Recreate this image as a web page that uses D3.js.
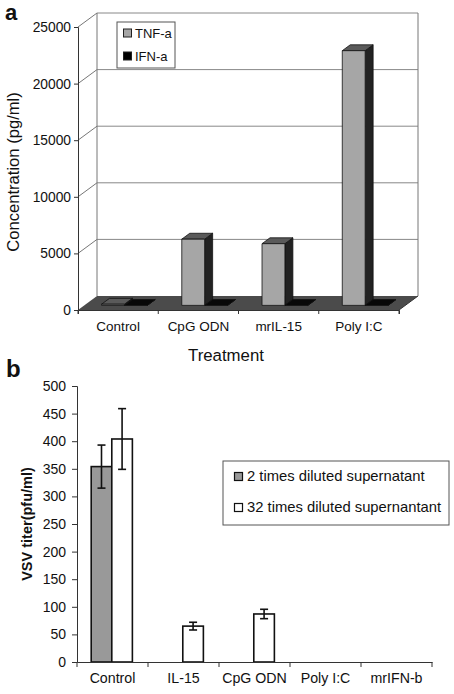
<!DOCTYPE html>
<html><head><meta charset="utf-8">
<script src="https://cdn.jsdelivr.net/npm/d3@7"></script>
<style>body{margin:0;background:#fff}svg{display:block}text{font-family:"Liberation Sans",Arial,sans-serif}</style>
</head><body><svg id="c" width="454" height="694"></svg>
<script>
// Panel a data
const catsA = ["Control", "CpG ODN", "mrIL-15", "Poly I:C"];
const seriesA = ["TNF-a", "IFN-a"];
const tnf = [100, 5850, 5450, 22500];
const ifn = [0, 0, 0, 0];
const ticksA = [0, 5000, 10000, 15000, 20000, 25000];
// Panel b data
const catsB = ["Control", "IL-15", "CpG ODN", "Poly I:C", "mrIFN-b"];
const seriesB = ["2 times diluted supernatant", "32 times diluted supernantant"];
const dil2 = [354, 0, 0, 0, 0];
const dil2Err = [39, 0, 0, 0, 0];
const dil32 = [404, 65, 87, 0, 0];
const dil32Err = [55, 7, 8.5, 0, 0];
const ticksB = [0, 50, 100, 150, 200, 250, 300, 350, 400, 450, 500];

const svg = d3.select("#c");
const F = '"Liberation Sans",Arial,sans-serif';

// ---------- Panel a ----------
const DX = 19, DY = -14;
const xA = d3.scaleBand().domain(catsA).range([78, 399]);
const xAs = d3.scaleBand().domain(seriesA).range([0.215 * xA.bandwidth(), 0.785 * xA.bandwidth()]);
const yA = d3.scaleLinear().domain([0, 25000]).range([310, 27]);
const gA = svg.append("g");
const P = (x, y, d) => [x + DX * d, y + DY * d];
const poly = pts => pts.map(p => p.join(",")).join(" ");

// floor
gA.append("polygon").attr("points", poly([P(78, yA(0), 0), P(399, yA(0), 0), P(399, yA(0), 1), P(78, yA(0), 1)]))
  .attr("fill", "#4b4b4b");
// back wall gridlines + left wall diagonals
ticksA.filter(t => t > 0).forEach(t => {
  const [bx, by] = P(78, yA(t), 1);
  gA.append("line").attr("x1", 78).attr("y1", yA(t)).attr("x2", bx).attr("y2", by).attr("stroke", "#777").attr("stroke-width", 1);
  gA.append("line").attr("x1", bx).attr("y1", by).attr("x2", 399 + DX).attr("y2", by).attr("stroke", "#888").attr("stroke-width", 1);
});
// back wall verticals
gA.append("line").attr("x1", 78 + DX).attr("y1", yA(25000) + DY).attr("x2", 78 + DX).attr("y2", yA(0) + DY).attr("stroke", "#777");
gA.append("line").attr("x1", 399 + DX).attr("y1", yA(25000) + DY).attr("x2", 399 + DX).attr("y2", yA(0) + DY).attr("stroke", "#777");
// floor right edge
gA.append("line").attr("x1", 399).attr("y1", yA(0)).attr("x2", 399 + DX).attr("y2", yA(0) + DY).attr("stroke", "#333");

// bars
const d1 = 0.33, d2 = 0.75;
function bar3d(x, w, v, front, top, side) {
  const y0 = yA(0), yv = yA(v);
  const ftl = P(x, yv, d1), ftr = P(x + w, yv, d1), fbr = P(x + w, y0, d1), fbl = P(x, y0, d1);
  const btl = P(x, yv, d2), btr = P(x + w, yv, d2), bbr = P(x + w, y0, d2);
  const g = gA.append("g").attr("stroke", "#111").attr("stroke-width", 0.8).attr("stroke-linejoin", "round");
  g.append("polygon").attr("points", poly([ftr, btr, bbr, fbr])).attr("fill", side);
  g.append("polygon").attr("points", poly([ftl, ftr, btr, btl])).attr("fill", top);
  if (yv < y0 - 0.5) g.append("polygon").attr("points", poly([ftl, ftr, fbr, fbl])).attr("fill", front);
}
catsA.forEach((c, i) => {
  bar3d(xA(c) + xAs("TNF-a"), xAs.bandwidth(), tnf[i], "#a6a6a6", "#5a5a5a", "#222");
  bar3d(xA(c) + xAs("IFN-a"), xAs.bandwidth(), ifn[i], "#000", "#080808", "#000");
});

// axes
const axA = gA.append("g").attr("transform", "translate(78,0)")
  .call(d3.axisLeft(yA).tickValues(ticksA).tickSize(4).tickPadding(3).tickFormat(d3.format("d")));
axA.select(".domain").attr("stroke", "#333");
axA.selectAll(".tick line").attr("stroke", "#333");
axA.selectAll("text").attr("font-size", 13.8).attr("font-family", F).attr("fill", "#111");
const axAx = gA.append("g").attr("transform", "translate(0,310)")
  .call(d3.axisBottom(xA).tickSize(4).tickPadding(7));
axAx.select(".domain").attr("stroke", "#333");
axAx.selectAll(".tick line").remove();
[78, ...catsA.map(c => xA(c) + xA.bandwidth())].forEach(x =>
  axAx.append("line").attr("x1", x).attr("x2", x).attr("y1", 0).attr("y2", 4).attr("stroke", "#333"));
axAx.selectAll("text").attr("font-size", 13.5).attr("font-family", F).attr("fill", "#111");

gA.append("text").attr("transform", "translate(19,172) rotate(-90)").attr("text-anchor", "middle")
  .attr("font-size", 16.6).attr("fill", "#111").text("Concentration (pg/ml)");
gA.append("text").attr("x", 226).attr("y", 361).attr("text-anchor", "middle").attr("font-size", 16.8).attr("fill", "#111").text("Treatment");
gA.append("text").attr("x", 5).attr("y", 20).attr("font-size", 22).attr("font-weight", "bold").attr("fill", "#111").text("a");

// legend a
const lgA = gA.append("g");
lgA.append("rect").attr("x", 117).attr("y", 22).attr("width", 58).attr("height", 46).attr("fill", "#fff").attr("stroke", "#555");
[["TNF-a", "#a6a6a6", 38], ["IFN-a", "#000", 61]].forEach(([t, c, y]) => {
  lgA.append("rect").attr("x", 123.5).attr("y", y - 9).attr("width", 8).attr("height", 8).attr("fill", c).attr("stroke", "#222");
  lgA.append("text").attr("x", 135).attr("y", y).attr("font-size", 13).attr("fill", "#111").text(t);
});

// ---------- Panel b ----------
const gB = svg.append("g");
const xB = d3.scaleBand().domain(catsB).range([77, 432]);
const xBs = d3.scaleBand().domain(seriesB).range([0.2 * xB.bandwidth(), 0.78 * xB.bandwidth()]);
const yB = d3.scaleLinear().domain([0, 500]).range([662, 386]);
const fills = ["#999", "#fff"];
[dil2, dil32].forEach((vals, si) => {
  catsB.forEach((c, i) => {
    const x = xB(c) + xBs(seriesB[si]);
    gB.append("rect").attr("x", x).attr("y", yB(vals[i])).attr("width", xBs.bandwidth())
      .attr("height", yB(0) - yB(vals[i])).attr("fill", fills[si]).attr("stroke", vals[i] > 0 ? "#111" : "#888")
      .attr("stroke-width", vals[i] > 0 ? 1.6 : 1);
  });
});
[[dil2, dil2Err], [dil32, dil32Err]].forEach(([vals, errs], si) => {
  catsB.forEach((c, i) => {
    if (!errs[i]) return;
    const cx = xB(c) + xBs(seriesB[si]) + xBs.bandwidth() / 2;
    const t = yB(vals[i] + errs[i]), b = yB(vals[i] - errs[i]);
    const g = gB.append("g").attr("stroke", "#111").attr("stroke-width", 1.6);
    g.append("line").attr("x1", cx).attr("x2", cx).attr("y1", t).attr("y2", b);
    g.append("line").attr("x1", cx - 4).attr("x2", cx + 4).attr("y1", t).attr("y2", t);
    g.append("line").attr("x1", cx - 4).attr("x2", cx + 4).attr("y1", b).attr("y2", b);
  });
});
const axB = gB.append("g").attr("transform", "translate(77,0)")
  .call(d3.axisLeft(yB).tickValues(ticksB).tickSize(5).tickPadding(6));
axB.select(".domain").attr("stroke", "#333");
axB.selectAll(".tick line").attr("stroke", "#333");
axB.selectAll("text").attr("font-size", 14).attr("font-family", F).attr("fill", "#111");
const axBx = gB.append("g").attr("transform", "translate(0,662)")
  .call(d3.axisBottom(xB).tickSize(0).tickPadding(11));
axBx.select(".domain").attr("stroke", "#333");
[77, ...catsB.map(c => xB(c) + xB.bandwidth())].forEach(x =>
  axBx.append("line").attr("x1", x).attr("x2", x).attr("y1", 0).attr("y2", 5).attr("stroke", "#333"));
axBx.selectAll("text").attr("font-size", 14.2).attr("font-family", F).attr("fill", "#111");

gB.append("text").attr("transform", "translate(32,524) rotate(-90)").attr("text-anchor", "middle")
  .attr("font-size", 14.5).attr("font-weight", "bold").attr("fill", "#111").text("VSV titer(pfu/ml)");
gB.append("text").attr("x", 6).attr("y", 377).attr("font-size", 24).attr("font-weight", "bold").attr("fill", "#111").text("b");

const lgB = gB.append("g");
lgB.append("rect").attr("x", 223).attr("y", 461).attr("width", 226).attr("height", 64).attr("fill", "#fff").attr("stroke", "#555");
seriesB.forEach((s, i) => {
  const y = 481 + i * 31;
  lgB.append("rect").attr("x", 234.5).attr("y", y - 8.5).attr("width", 8).attr("height", 8).attr("fill", fills[i]).attr("stroke", "#111").attr("stroke-width", 1.2);
  lgB.append("text").attr("x", 247).attr("y", y).attr("font-size", 14.8).attr("fill", "#111").text(s);
});
</script></body></html>
